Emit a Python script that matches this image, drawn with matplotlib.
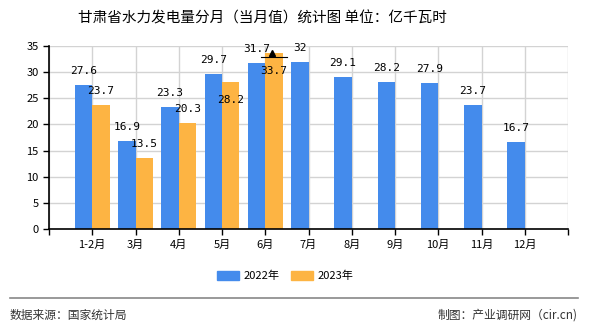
import numpy as np
import matplotlib.pyplot as plt
from matplotlib.patches import Patch

plt.rcParams['font.family'] = ['Noto Sans CJK SC', 'DejaVu Sans']

# 数据
months = ['1-2月', '3月', '4月', '5月', '6月', '7月', '8月', '9月', '10月', '11月', '12月']
v2022 = [27.6, 16.9, 23.3, 29.7, 31.7, 32, 29.1, 28.2, 27.9, 23.7, 16.7]
v2023 = [23.7, 13.5, 20.3, 28.2, 33.7]
series_names = ['2022年', '2023年']

c_blue = '#448BEC'
c_orange = '#FDB443'

fig = plt.figure(figsize=(5.9, 3.3), dpi=100)
ax = fig.add_axes([49 / 590, 1 - 229 / 330, 519 / 590, 183 / 330])

x = np.arange(1, len(months) + 1)
x23 = x[:len(v2023)]
w = 0.4
b1 = ax.bar(x, v2022, width=-w, align='edge', color=c_blue, zorder=2)
b2 = ax.bar(x23, v2023, width=w, align='edge', color=c_orange, zorder=2)

# 数值标签
def fmt(v):
    return f'{v:g}'

for bar, v in zip(b1, v2022):
    ax.annotate(fmt(v), (bar.get_x() + bar.get_width() / 2, v), xytext=(0, 9),
                textcoords='offset pixels', ha='center', va='bottom',
                fontsize=8, family='DejaVu Sans Mono', zorder=4)
# 与相邻标签冲突时放到柱内
inside = {3: -13, 4: -13}
for i, (bar, v) in enumerate(zip(b2, v2023)):
    off = inside.get(i, 9)
    ax.annotate(fmt(v), (bar.get_x() + bar.get_width() / 2, v), xytext=(0, off),
                textcoords='offset pixels', ha='center',
                va='bottom' if off > 0 else 'top',
                fontsize=8, family='DejaVu Sans Mono', zorder=4)

# 最大值标记
imax = int(np.argmax(v2023))
xm = x23[imax] + w / 2
ax.plot([xm - 0.3, xm + 0.3], [v2023[imax] - 0.8] * 2, color='black', lw=0.8, zorder=5)
ax.plot(xm - 0.05, v2023[imax] - 0.1, marker='^', color='black', ms=5, zorder=5)

ax.set_xlim(0, 12)
ax.set_ylim(0, 35)
ax.set_yticks(range(0, 36, 5))
ax.set_xticks(range(0, 13))
ax.set_xticklabels([''] + months + [''])
ax.tick_params(axis='both', labelsize=8, length=4, width=1, colors='black')
ax.tick_params(axis='x', pad=4)
ax.grid(True, color='#d3d3d3', lw=1, zorder=0)
for s in ['top', 'right']:
    ax.spines[s].set_visible(False)
for s in ['left', 'bottom']:
    ax.spines[s].set_linewidth(1.2)

fig.text(262 / 590, 1 - 18 / 330, '甘肃省水力发电量分月（当月值）统计图 单位：亿千瓦时',
         ha='center', va='center', fontsize=10.5)

handles = [Patch(color=c_blue), Patch(color=c_orange)]
fig.legend(handles, series_names, loc='center', bbox_to_anchor=(285 / 590, 1 - 276 / 330),
           ncol=2, frameon=False, fontsize=8, handlelength=2.0, handleheight=0.9,
           columnspacing=1.0, handletextpad=0.4)

fig.add_artist(plt.Line2D([10 / 590, 578 / 590], [1 - 298 / 330] * 2,
                          color='#888888', lw=1.2))
fig.text(10 / 590, 1 - 315 / 330, '数据来源：国家统计局', ha='left', va='center',
         fontsize=8.5, color='#333333')
fig.text(578 / 590, 1 - 315 / 330, '制图：产业调研网（cir.cn)', ha='right', va='center',
         fontsize=8.5, color='#333333')

fig.savefig('out.png', dpi=100)
